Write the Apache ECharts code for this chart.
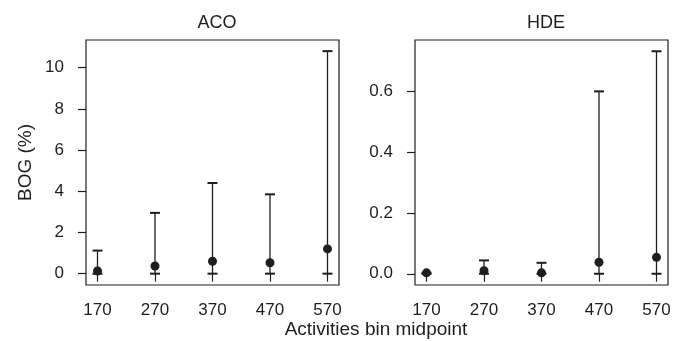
<!DOCTYPE html>
<html>
<head>
<meta charset="utf-8">
<script src="https://cdn.jsdelivr.net/npm/echarts@6/dist/echarts.min.js"></script>
<style>
  html, body { margin: 0; padding: 0; background: #fff; }
  #chart { width: 686px; height: 341px; }
</style>
</head>
<body>
<div id="chart"></div>
<script>
// bin midpoints
const bins = [170, 270, 370, 470, 570]

// ACO: mean and upper bound (lower bound is 0)
const acoMean = [0.13, 0.37, 0.6, 0.53, 1.2]
const acoLow = [0, 0, 0, 0, 0]
const acoHigh = [1.12, 2.95, 4.4, 3.85, 10.8]

// HDE
const hdeMean = [0.003, 0.01, 0.003, 0.038, 0.054]
const hdeLow = [0, 0, 0, 0, 0]
const hdeHigh = [0.003, 0.044, 0.036, 0.6, 0.732]

const acoTicks = [0, 2, 4, 6, 8, 10]
const hdeTicks = [0, 0.2, 0.4, 0.6]

const FONT = 'Liberation Sans'
const INK = '#1e1e1e'

const chart = echarts.init(document.getElementById('chart'), null, { renderer: 'canvas' })

const errData = (low, high) => bins.map((b, i) => [b, low[i], high[i]])
const ptData = (mean) => bins.map((b, i) => [b, mean[i]])

// vertical line with caps at both ends
function renderErr(params, api) {
  const x = api.value(0)
  const lo = api.coord([x, api.value(1)])
  const hi = api.coord([x, api.value(2)])
  const hw = 5
  return {
    type: 'group',
    children: [
      { type: 'line', shape: { x1: lo[0], y1: lo[1], x2: hi[0], y2: hi[1] }, style: { stroke: INK, lineWidth: 1.3 } },
      { type: 'line', shape: { x1: lo[0] - hw, y1: lo[1], x2: lo[0] + hw, y2: lo[1] }, style: { stroke: INK, lineWidth: 2 } },
      { type: 'line', shape: { x1: hi[0] - hw, y1: hi[1], x2: hi[0] + hw, y2: hi[1] }, style: { stroke: INK, lineWidth: 2 } }
    ]
  }
}

function xAxisOpt(idx) {
  return {
    type: 'value', gridIndex: idx, min: 150, max: 590,
    axisLine: { show: false },
    splitLine: { show: false },
    axisTick: { show: true, customValues: bins, length: 8, lineStyle: { color: INK, width: 1.2 } },
    axisLabel: { customValues: bins, color: INK, fontSize: 17, fontFamily: FONT, margin: 17 }
  }
}

function yAxisOpt(idx, min, max, ticks, fmt) {
  return {
    type: 'value', gridIndex: idx, min: min, max: max,
    axisLine: { show: false },
    splitLine: { show: false },
    axisTick: { show: true, customValues: ticks, length: 8, lineStyle: { color: INK, width: 1.2 } },
    axisLabel: { customValues: ticks, color: INK, fontSize: 17, fontFamily: FONT, margin: 22, formatter: fmt },
    name: idx === 0 ? 'BOG (%)' : '',
    nameLocation: 'middle',
    nameGap: 51,
    nameTextStyle: { color: INK, fontSize: 19, fontFamily: FONT }
  }
}

const option = {
  animation: false,
  backgroundColor: '#fff',
  title: [
    { text: 'ACO', left: 212, top: 9, textAlign: 'center', textStyle: { color: INK, fontSize: 18, fontWeight: 'normal', fontFamily: FONT } },
    { text: 'HDE', left: 541, top: 9, textAlign: 'center', textStyle: { color: INK, fontSize: 18, fontWeight: 'normal', fontFamily: FONT } }
  ],
  grid: [
    { left: 86, top: 40, width: 253, height: 245, show: true, borderColor: INK, borderWidth: 1.2, backgroundColor: 'transparent' },
    { left: 415, top: 40, width: 253, height: 245, show: true, borderColor: INK, borderWidth: 1.2, backgroundColor: 'transparent' }
  ],
  xAxis: [xAxisOpt(0), xAxisOpt(1)],
  yAxis: [
    yAxisOpt(0, -0.55, 11.34, acoTicks, (v) => String(v)),
    yAxisOpt(1, -0.037, 0.769, hdeTicks, (v) => v.toFixed(1))
  ],
  graphic: [
    { type: 'text', x: 376, y: 330, style: { text: 'Activities bin midpoint', fill: INK, fontSize: 19, fontFamily: FONT, align: 'center', verticalAlign: 'middle' } }
  ],
  series: [
    { type: 'custom', xAxisIndex: 0, yAxisIndex: 0, renderItem: renderErr, data: errData(acoLow, acoHigh), encode: { x: 0, y: [1, 2] } },
    { type: 'scatter', xAxisIndex: 0, yAxisIndex: 0, symbolSize: 9, itemStyle: { color: INK, opacity: 1 }, data: ptData(acoMean) },
    { type: 'custom', xAxisIndex: 1, yAxisIndex: 1, renderItem: renderErr, data: errData(hdeLow, hdeHigh), encode: { x: 0, y: [1, 2] } },
    { type: 'scatter', xAxisIndex: 1, yAxisIndex: 1, symbolSize: 9, itemStyle: { color: INK, opacity: 1 }, data: ptData(hdeMean) }
  ]
}

chart.setOption(option)
</script>
</body>
</html>
